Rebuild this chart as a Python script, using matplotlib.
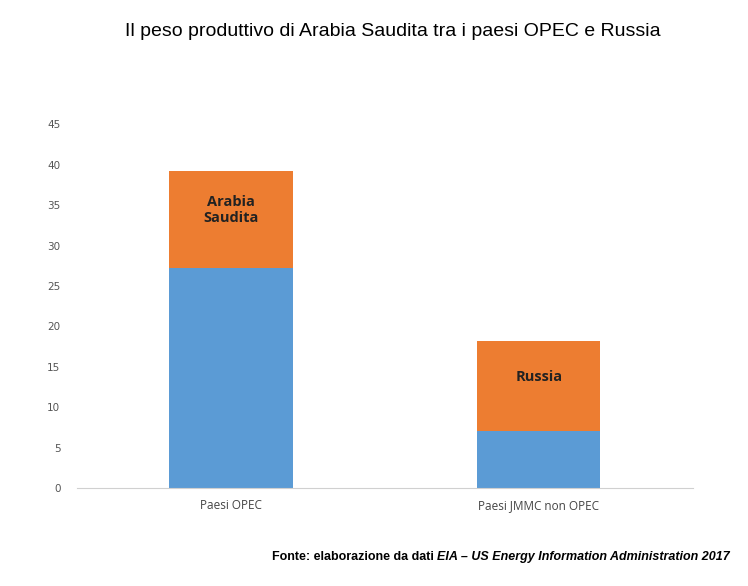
import matplotlib
matplotlib.use("Agg")
import matplotlib.pyplot as plt

categories = ["Paesi OPEC", "Paesi JMMC non OPEC"]
base_values = [27.2, 7.1]
top_values = [12.0, 11.1]
top_labels = ["Arabia\nSaudita", "Russia"]

fig = plt.figure(figsize=(7.48, 5.86), dpi=100)
ax = fig.add_axes([0.103, 0.167, 0.823, 0.621])

x = range(len(categories))
ax.bar(x, base_values, width=0.4, color="#5B9BD5")
ax.bar(x, top_values, width=0.4, bottom=base_values, color="#ED7D31")
for i, (b, t, lab) in enumerate(zip(base_values, top_values, top_labels)):
    ax.text(i, b + t * 0.6, lab, ha="center", va="center", fontsize=10.5,
            fontweight="bold", family="Open Sans", color="#222222")

ax.set_xlim(-0.5, 1.5)
ax.set_ylim(0, 45)
ax.set_yticks(range(0, 46, 5))
ax.set_xticks(list(x))
ax.set_xticklabels(categories, family="Open Sans", fontsize=8.5, color="#444444")
ax.tick_params(axis="y", labelsize=7.5, labelcolor="#555555", length=0, pad=12)
ax.tick_params(axis="x", length=0, pad=8)
for s in ["top", "right", "left"]:
    ax.spines[s].set_visible(False)
ax.spines["bottom"].set_color("#d0d0d0")

fig.text(125 / 748, 1 - 32 / 586, "Il peso produttivo di Arabia Saudita tra i paesi OPEC e Russia",
         family="Liberation Sans", fontsize=14, va="center", ha="left")

t2 = fig.text(730 / 748, 1 - 557 / 586, "EIA \u2013 US Energy Information Administration 2017",
              family="Liberation Sans", fontsize=9, fontweight="bold", style="italic",
              ha="right", va="center")
fig.canvas.draw()
bb = t2.get_window_extent()
fig.text(bb.x0 / fig.bbox.width, 1 - 557 / 586, "Fonte: elaborazione da dati ",
         family="Liberation Sans", fontsize=9, fontweight="bold", ha="right", va="center")

fig.savefig("out.png", dpi=100)
